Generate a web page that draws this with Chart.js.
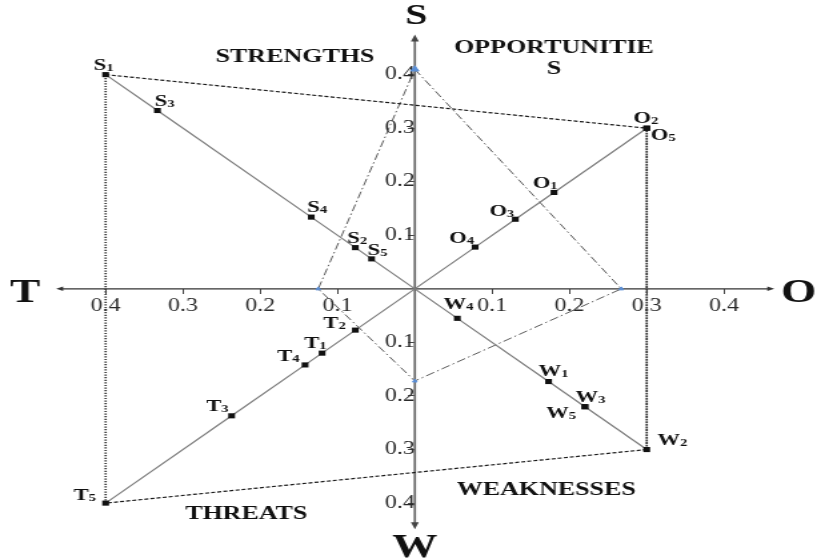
<!DOCTYPE html>
<html>
<head>
<meta charset="utf-8">
<script src="https://cdn.jsdelivr.net/npm/chart.js@4.4.1/dist/chart.umd.min.js"></script>
<style>
  html, body { margin: 0; padding: 0; background: #fff; overflow: hidden; }
  /* the source figure is stretched sideways, so the canvas is too */
  #wrap { width: 616px; height: 559px; transform: scaleX(1.3328); transform-origin: 0 0; }
</style>
</head>
<body>
<div id="wrap"><canvas id="swot" width="616" height="559"></canvas></div>
<script>
// factor weights (each factor sits on its diagonal)
const sNames = ['S1', 'S2', 'S3', 'S4', 'S5']
const sValues = [0.40, 0.077, 0.333, 0.134, 0.056]
const oNames = ['O1', 'O2', 'O3', 'O4', 'O5']
const oValues = [0.18, 0.30, 0.13, 0.078, 0.30]
const wNames = ['W1', 'W2', 'W3', 'W4', 'W5']
const wValues = [0.173, 0.30, 0.22, 0.055, 0.22]
const tNames = ['T1', 'T2', 'T3', 'T4', 'T5']
const tValues = [0.12, 0.077, 0.237, 0.142, 0.40]

// strategy quadrilateral, one value per axis
const strategyAxes = ['S', 'O', 'W', 'T']
const strategyValues = [0.41, 0.267, 0.172, 0.125]

const tickValues = [0.1, 0.2, 0.3, 0.4]
const axisLetters = ['S', 'O', 'W', 'T']

const groups = [
  {names: sNames, values: sValues, dir: [-1, 1]},
  {names: oNames, values: oValues, dir: [1, 1]},
  {names: wNames, values: wValues, dir: [1, -1]},
  {names: tNames, values: tValues, dir: [-1, -1]}
]
const axisDir = {S: [0, 1], O: [1, 0], W: [0, -1], T: [-1, 0]}

const serif = '"Liberation Serif", "Times New Roman", serif'

const factorData = g => g.names.map((n, i) => ({x: g.dir[0] * g.values[i], y: g.dir[1] * g.values[i], name: n}))

const diagonalSets = groups.map(g => ({
  data: [{x: 0, y: 0}].concat(factorData(g).sort((a, b) => Math.abs(a.x) - Math.abs(b.x))),
  showLine: true,
  borderColor: '#7d7d7d',
  borderWidth: 1.2,
  pointStyle: 'rect',
  pointRadius: ctx => ctx.raw && ctx.raw.name ? 3.6 : 0,
  pointBackgroundColor: '#111',
  pointBorderColor: '#111',
  pointBorderWidth: 0,
  order: 1
}))

// outer frame through the strongest factor of each group
const corners = groups.map(g => {
  const i = g.values.indexOf(Math.max(...g.values))
  return {x: g.dir[0] * g.values[i], y: g.dir[1] * g.values[i]}
})
const frameSet = {
  data: corners.concat([corners[0]]),
  showLine: true,
  borderColor: '#1a1a1a',
  borderWidth: 1.2,
  pointRadius: 0,
  segment: {
    borderDash: ctx => ctx.p0DataIndex % 2 === 0 ? [3, 1.6] : [1.2, 1.4],
    borderWidth: ctx => ctx.p0DataIndex % 2 === 0 ? 1.2 : 1.7,
    borderColor: ctx => ctx.p0DataIndex % 2 === 0 ? '#1a1a1a' : '#333'
  },
  order: 2
}

const strategyPts = strategyAxes.map((a, i) => ({x: axisDir[a][0] * strategyValues[i], y: axisDir[a][1] * strategyValues[i]}))
const strategySet = {
  data: strategyPts.concat([strategyPts[0]]),
  showLine: true,
  borderColor: '#5a5a5a',
  borderWidth: 1,
  borderDash: [7, 2.5, 1.5, 2.5],
  pointStyle: 'triangle',
  pointRadius: ctx => ctx.dataIndex === 0 ? 3.5 : 2,
  pointBackgroundColor: '#5b8fd6',
  pointBorderColor: '#5b8fd6',
  order: 3
}

// label placement next to each marker, canvas px [dx, dy]
const labelOffsets = {
  S1: [-9, -5], S2: [-6, -5], S3: [-2, -5], S4: [-3, -5], S5: [-3, -4],
  O1: [-16, -4], O2: [-10, -5], O3: [-19.5, -3], O4: [-19.5, -4], O5: [3, 12],
  W1: [-7.5, -6], W2: [8, -5], W3: [-7, -5], W4: [-10.5, -9], W5: [-29, 11],
  T1: [-13.5, -5], T2: [-24, -2], T3: [-19, -5], T4: [-21, -4], T5: [-24, -3]
}
const axisReach = {left: -0.464, right: 0.465, top: 0.475, bottom: -0.449}
const quadrantText = [
  {lines: ['STRENGTHS'], x: -0.155, y: 0.423},
  {lines: ['OPPORTUNITIE', 'S'], x: 0.18, y: 0.44},
  {lines: ['WEAKNESSES'], x: 0.17, y: -0.385},
  {lines: ['THREATS'], x: -0.218, y: -0.43}
]

function arrowHead(ctx, x, y, dx, dy) {
  const len = 7, half = 3
  ctx.beginPath()
  ctx.moveTo(x, y)
  ctx.lineTo(x - dx * len - dy * half, y - dy * len - dx * half)
  ctx.lineTo(x - dx * len + dy * half, y - dy * len + dx * half)
  ctx.closePath()
  ctx.fill()
}

const swotDecor = {
  id: 'swotDecor',
  beforeDatasetsDraw(chart) {
    const {ctx, scales: {x, y}} = chart
    const x0 = x.getPixelForValue(0), y0 = y.getPixelForValue(0)
    const l = x.getPixelForValue(axisReach.left), r = x.getPixelForValue(axisReach.right)
    const t = y.getPixelForValue(axisReach.top), b = y.getPixelForValue(axisReach.bottom)
    ctx.save()
    ctx.strokeStyle = '#333'
    ctx.fillStyle = '#333'
    ctx.lineWidth = 1.4
    ctx.beginPath(); ctx.moveTo(l + 4, y0); ctx.lineTo(r - 4, y0); ctx.stroke()
    arrowHead(ctx, l, y0, -0.75, 0)
    arrowHead(ctx, r, y0, 0.75, 0)
    ctx.strokeStyle = '#6b6b6b'
    ctx.lineWidth = 1.8
    ctx.beginPath(); ctx.moveTo(x0, t + 5); ctx.lineTo(x0, b - 5); ctx.stroke()
    ctx.fillStyle = '#444'
    arrowHead(ctx, x0, t, 0, -1)
    arrowHead(ctx, x0, b, 0, 1)

    // axis letters
    ctx.fillStyle = '#111'
    ctx.textBaseline = 'alphabetic'
    ctx.font = 'bold 30px ' + serif
    ctx.textAlign = 'center'
    ctx.fillText(axisLetters[0], x0 + 1, t - 10)
    ctx.font = 'bold 34px ' + serif
    ctx.textAlign = 'left'
    ctx.fillText(axisLetters[1], r + 5, y0 + 13)
    ctx.textAlign = 'center'
    ctx.fillText(axisLetters[2], x0, b + 28)
    ctx.textAlign = 'right'
    ctx.fillText(axisLetters[3], l - 12, y0 + 13)

    // quadrant titles
    ctx.font = 'bold 19.5px ' + serif
    ctx.textAlign = 'center'
    quadrantText.forEach(q => {
      q.lines.forEach((line, k) => {
        ctx.fillText(line, x.getPixelForValue(q.x), y.getPixelForValue(q.y) + k * 21)
      })
    })
    ctx.restore()
  },
  afterDatasetsDraw(chart) {
    const {ctx, scales: {x, y}} = chart
    ctx.save()
    ctx.fillStyle = '#111'
    ctx.textAlign = 'left'
    ctx.textBaseline = 'alphabetic'
    groups.forEach(g => {
      factorData(g).forEach(p => {
        const off = labelOffsets[p.name] || [0, -5]
        const px = x.getPixelForValue(p.x) + off[0]
        const py = y.getPixelForValue(p.y) + off[1]
        ctx.font = 'bold 17px ' + serif
        ctx.fillText(p.name[0], px, py)
        const w = ctx.measureText(p.name[0]).width
        ctx.font = 'bold 11px ' + serif
        ctx.fillText(p.name.slice(1), px + w, py + 1)
      })
    })
    ctx.restore()
  }
}

const crossTicks = axis => {
  axis.ticks = tickValues.map(v => -v).reverse().concat(tickValues).map(v => ({value: v}))
}
// the crossing axes sit inside the plot, so they should not pad the chart area
const noPadding = axis => {
  axis.paddingTop = 0
  axis.paddingBottom = 0
  axis.paddingLeft = 0
  axis.paddingRight = 0
}

const tickStyle = {
  color: '#2a2a2a',
  font: {family: serif, size: 18},
  padding: 2,
  autoSkip: false,
  maxRotation: 0,
  callback: v => Math.abs(v).toFixed(1)
}

new Chart(document.getElementById('swot'), {
  type: 'scatter',
  data: {datasets: diagonalSets.concat([frameSet, strategySet])},
  options: {
    responsive: false,
    animation: false,
    layout: {padding: 0},
    plugins: {legend: {display: false}, tooltip: {enabled: false}},
    scales: {
      x: {
        type: 'linear',
        min: -0.528,
        max: 0.5168,
        position: {y: 0},
        afterBuildTicks: crossTicks,
        afterFit: noPadding,
        grid: {drawOnChartArea: false, drawTicks: true, tickLength: 5, color: '#444'},
        border: {display: false},
        ticks: tickStyle
      },
      y: {
        type: 'linear',
        min: -0.495,
        max: 0.530,
        position: {x: 0},
        afterBuildTicks: crossTicks,
        afterFit: noPadding,
        grid: {drawOnChartArea: false, drawTicks: true, tickLength: 5, color: '#444'},
        border: {display: false},
        ticks: tickStyle
      }
    }
  },
  plugins: [swotDecor]
})
</script>
</body>
</html>
